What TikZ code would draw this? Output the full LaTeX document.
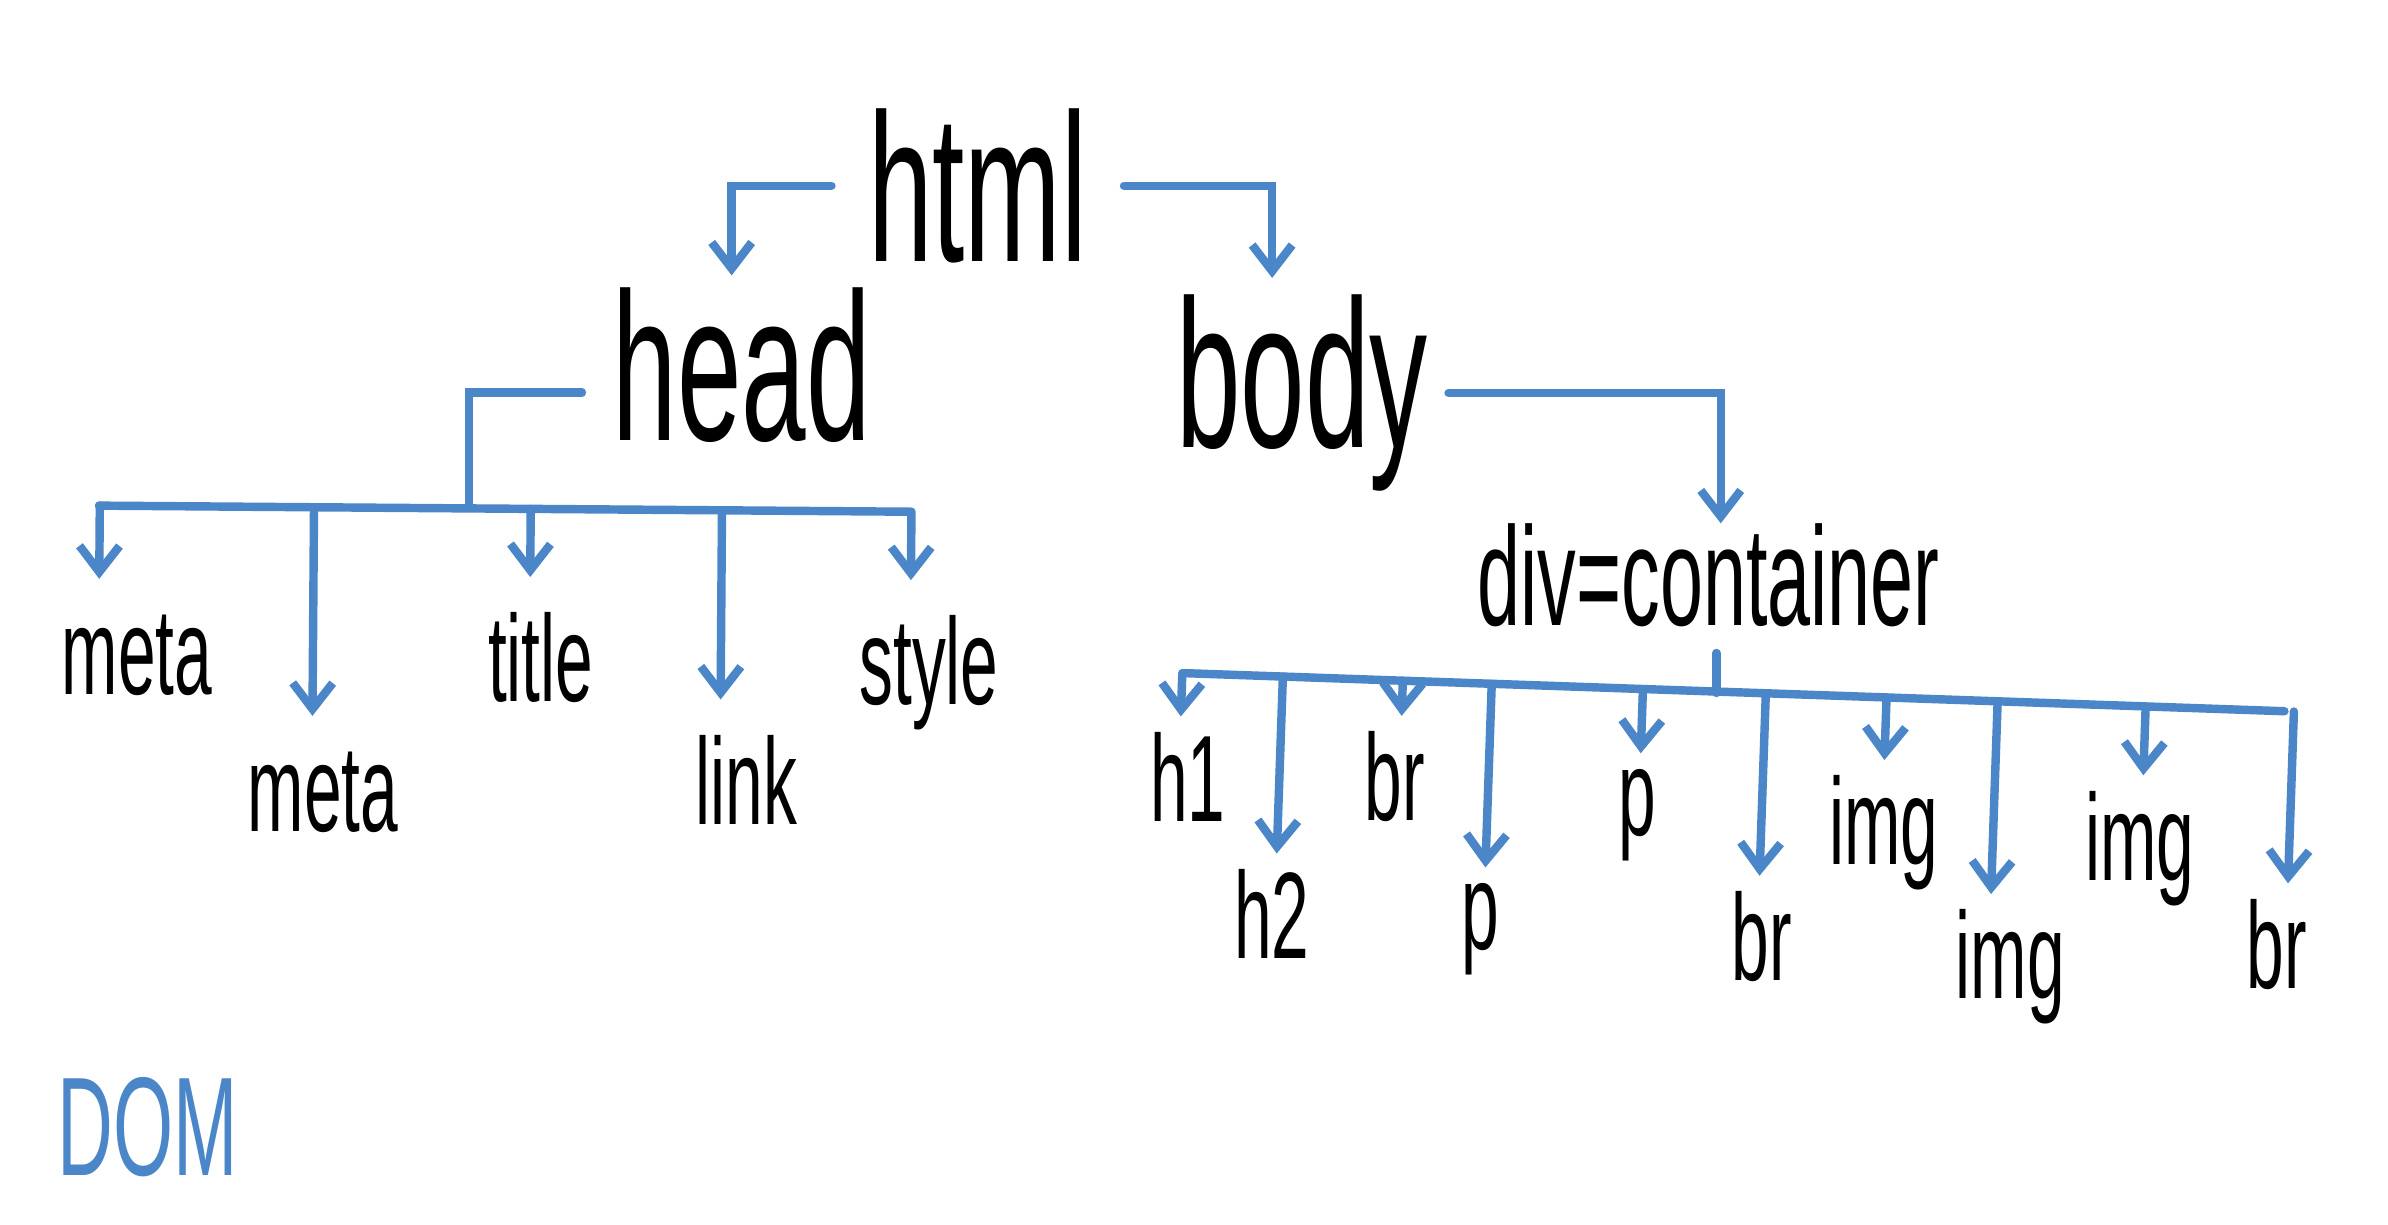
\documentclass[tikz,border=0pt]{standalone}
\usepackage{fontspec}
\usetikzlibrary{positioning,calc,arrows.meta}
\newfontfamily\handfont[FakeStretch=0.55]{Liberation Sans}
\definecolor{penblue}{RGB}{74,134,200}

\begin{document}
\begin{tikzpicture}[x=0.1523mm, y=-0.1523mm,
    word/.style={inner sep=0pt, font=\handfont\fontsize{60}{60}\selectfont},
    leaf/.style={inner sep=0pt, font=\handfont\fontsize{35}{35}\selectfont},
    wire/.style={draw=penblue, line width=2.4pt, line cap=round},
    linkarrow/.style={wire, -{Straight Barb[length=2.6mm,width=4mm]}, shorten >=1.5mm}]

        \path[fill=white, use as bounding box] (0,0) rectangle (1568,804);

        \node[word] (html) at (642,122) {html};
        \node[word] (head) at (487,240) {head};
        \node[word] (body) at (855,258) {body};
        \node[word, font=\handfont\fontsize{40}{40}\selectfont] (div) at (1122,378) {div=container};

        \foreach \name/\lab/\x/\y in {meta1/meta/90/430, meta2/meta/212/520, title/title/355/432,
            link/link/490/512, style/style/610/442, h1/h1/780/510, h2/h2/835/600, br1/br/916/510,
            p1/p/972/610, p2/p/1075/535, br2/br/1157/615, img1/img/1237/547, img2/img/1320/635,
            img3/img/1405/557, br3/br/1495/620} {
                \node[leaf] (\name) at (\x,\y) {\lab};
        }

        \node[leaf, font=\handfont\fontsize{40}{40}\selectfont, text=penblue] (dom) at (97,740) {DOM};

        % html splits into head and body
        \draw[linkarrow, shorten <=3.6mm, shorten >=1.2mm] (html.west) -| ([xshift=-1mm]head.north);
        \draw[linkarrow, shorten <=3.6mm, shorten >=1.6mm] (html.east) -| ([xshift=-3mm]body.north);
        \draw[linkarrow, shorten <=2mm, shorten >=0mm] (body.east) -| ([xshift=1.2mm]div.north);

        % head children
        \coordinate (hbL) at (65,332);
        \coordinate (hbR) at (598,336);
        \coordinate (hbJ) at (308,333);
        \draw[wire] (hbL) -- (hbR);
        \draw[wire, shorten <=3mm] ([yshift=-2.7mm]head.west) -| (hbJ);
        \foreach \name/\dx in {meta1/-25, meta2/-7, title/-7, link/-17, style/-12}
            \draw[linkarrow, shorten >=3.5mm] ($(hbL)!([xshift=\dx*0.1523mm]\name.north)!(hbR)$) -- ([xshift=\dx*0.1523mm]\name.north);

        % div children
        \coordinate (dbL) at (778,442);
        \coordinate (dbR) at (1500,467);
        \coordinate (dbJ) at (1127,455);
        \draw[wire] (dbL) -- (dbR);
        \draw[wire, shorten <=2.5mm] (div.south -| dbJ) -- (dbJ);
        \foreach \name/\dx in {h1/-5, h2/3, br1/4, p1/3, p2/2, br2/-2, img1/0, img2/-13, img3/2, br3/7}
            \draw[linkarrow] ($(dbL)!([xshift=\dx*0.1523mm]\name.north)!(dbR)$) -- ([xshift=\dx*0.1523mm]\name.north);

    \end{tikzpicture}
\end{document}
